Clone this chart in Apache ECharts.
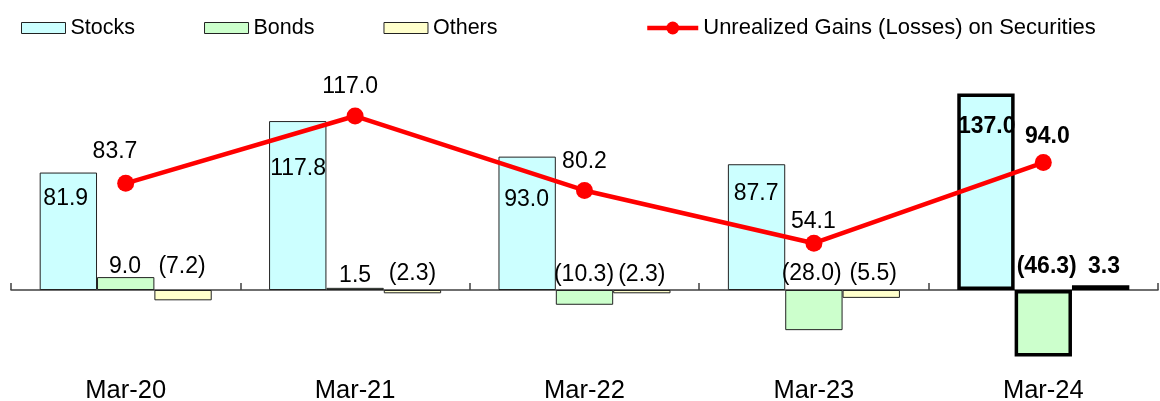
<!DOCTYPE html>
<html>
<head>
<meta charset="utf-8">
<script src="https://cdn.jsdelivr.net/npm/echarts@6/dist/echarts.min.js"></script>
<style>html,body{margin:0;padding:0;background:#fff}#c{width:1160px;height:401px}</style>
</head>
<body>
<div id="c"></div>
<script>
// ---- data ----
const categories = ['Mar-20', 'Mar-21', 'Mar-22', 'Mar-23', 'Mar-24'];
const stocks = [81.9, 117.8, 93.0, 87.7, 137.0];
const bonds = [9.0, 1.5, -10.3, -28.0, -46.3];
const others = [-7.2, -2.3, -2.3, -5.5, 3.3];
const gains = [83.7, 117.0, 80.2, 54.1, 94.0];

// ---- style (label nudges, highlighted category) ----
const highlightIndex = 4;
const stocksLabelOffset = [[-2.6, 38], [0.3, 58.8], [-0.5, 55], [-0.5, 40.8], [0.8, 44.8]];
const bondsLabelOffset = [[-0.7, 1.4], [0, -0.4], [-0.5, -3.4], [-2.2, -5], [3.4, -11.5]];
const othersLabelOffset = [[-1, -11.5], [0, -5], [0, -3.4], [2, -5], [3.4, -7]];
const gainsLabelOffset = [[-10.7, -11.5], [-5, -9.8], [0, -8.5], [-0.6, -1.5], [4, -5.5]];

const FONT = "'Liberation Sans', Arial, sans-serif";
const fmt = v => v < 0 ? '(' + Math.abs(v).toFixed(1) + ')' : v.toFixed(1);

function barItems(values, offsets) {
  return values.map((v, i) => {
    const item = {
      value: v,
      label: { offset: offsets[i], fontWeight: i === highlightIndex ? 'bold' : 'normal' }
    };
    if (i === highlightIndex) item.itemStyle = { borderWidth: 3.5, borderColor: '#000' };
    return item;
  });
}

const labelBase = {
  show: true, position: 'top', distance: 0,
  fontSize: 23, lineHeight: 23, color: '#000', fontFamily: FONT,
  formatter: p => fmt(p.value)
};

function barSeries(name, values, offsets, color) {
  return {
    name, type: 'bar', xAxisIndex: 0, yAxisIndex: 0,
    barGap: '0%', barCategoryGap: '25%',
    itemStyle: { color, borderColor: '#222', borderWidth: 1 },
    label: labelBase,
    data: barItems(values, offsets),
    z: 2
  };
}

const chart = echarts.init(document.getElementById('c'), null, { renderer: 'canvas' });
chart.setOption({
  animation: false,
  backgroundColor: '#fff',
  textStyle: { fontFamily: FONT },
  grid: { left: 11, right: 2, top: 89.24, bottom: 32.13, containLabel: false, outerBoundsMode: 'none' },
  legend: [
    {
      data: ['Stocks', 'Bonds', 'Others'],
      left: 21, top: 17, padding: 0,
      itemWidth: 44, itemHeight: 11, itemGap: 69,
      icon: 'rect', selectedMode: false,
      itemStyle: { borderColor: '#222', borderWidth: 1 },
      textStyle: { fontSize: 21.5, lineHeight: 21, color: '#000', fontFamily: FONT }
    },
    {
      data: ['Unrealized Gains (Losses) on Securities'],
      left: 645, top: 17, padding: 0,
      itemWidth: 51, itemHeight: 16, selectedMode: false,
      lineStyle: { color: '#FF0000', width: 4.5 },
      itemStyle: { color: '#FF0000' },
      textStyle: { fontSize: 22, lineHeight: 21, color: '#000', fontFamily: FONT }
    }
  ],
  xAxis: [
    {
      type: 'category', data: categories, position: 'bottom', boundaryGap: true,
      axisLine: { show: false, onZero: false },
      axisTick: { show: false },
      axisLabel: { margin: 11, fontSize: 25.5, lineHeight: 22, color: '#000', fontFamily: FONT }
    },
    {
      type: 'category', data: categories, position: 'bottom', boundaryGap: true,
      axisLine: { onZero: true, lineStyle: { color: '#404040', width: 1.5 } },
      axisTick: { show: true, inside: true, length: 7, lineStyle: { color: '#404040', width: 1.5 } },
      axisLabel: { show: false }
    }
  ],
  yAxis: [
    { type: 'value', min: -55, max: 140, show: false, splitLine: { show: false } },
    { type: 'value', min: -8.05, max: 130.25, show: false, splitLine: { show: false } }
  ],
  series: [
    barSeries('Stocks', stocks, stocksLabelOffset, '#CCFFFF'),
    barSeries('Bonds', bonds, bondsLabelOffset, '#CCFFCC'),
    barSeries('Others', others, othersLabelOffset, '#FFFFCC'),
    {
      name: 'Unrealized Gains (Losses) on Securities',
      type: 'line', xAxisIndex: 0, yAxisIndex: 1,
      symbol: 'circle', symbolSize: 17,
      lineStyle: { color: '#FF0000', width: 4.5 },
      itemStyle: { color: '#FF0000' },
      label: labelBase,
      data: gains.map((v, i) => ({
        value: v,
        label: { offset: gainsLabelOffset[i], fontWeight: i === highlightIndex ? 'bold' : 'normal' }
      })),
      z: 5
    }
  ]
});
</script>
</body>
</html>
